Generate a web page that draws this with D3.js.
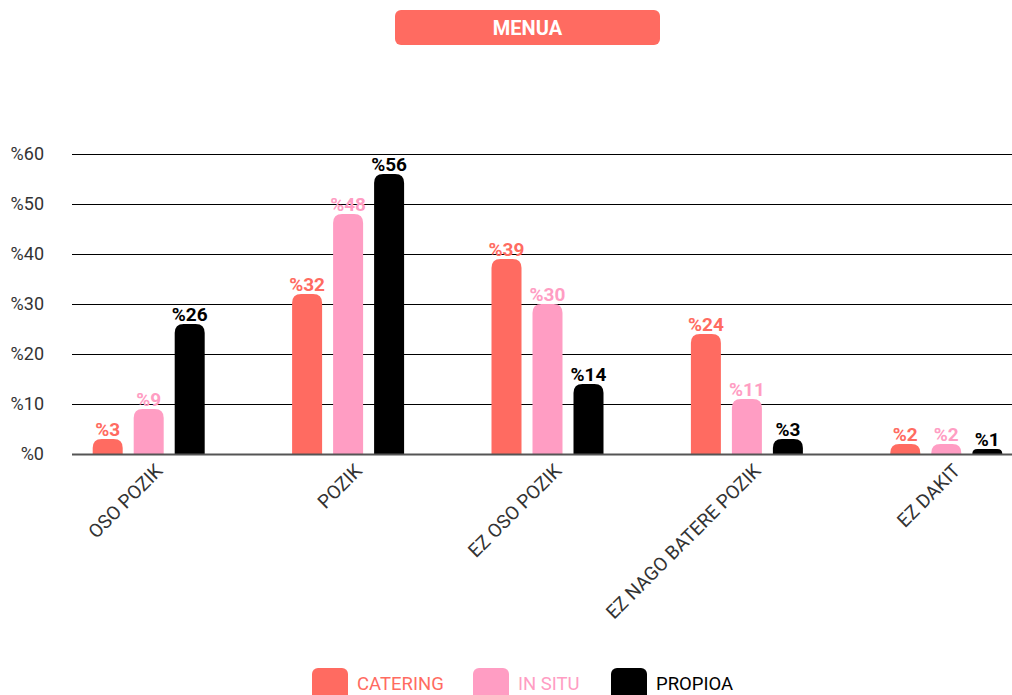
<!DOCTYPE html>
<html><head><meta charset="utf-8">
<script src="https://cdn.jsdelivr.net/npm/d3@7/dist/d3.min.js"></script>
<style>body{margin:0;background:#fff;}svg{display:block;font-family:Roboto,sans-serif;}</style>
</head><body>
<svg id="c" width="1012" height="695"></svg>
<script>
const categories = ["OSO POZIK","POZIK","EZ OSO POZIK","EZ NAGO BATERE POZIK","EZ DAKIT"];
const seriesNames = ["CATERING","IN SITU","PROPIOA"];
const catering = [3,32,39,24,2];
const inSitu = [9,48,30,11,2];
const propioa = [26,56,14,3,1];
const yTicks = [0,10,20,30,40,50,60];
const colors = ["#ff6b61","#ff9dc3","#000000"];
const title = "MENUA";

const series = [catering, inSitu, propioa];
const svg = d3.select("#c");
const left = 72, right = 1012;
const x = d3.scaleBand().domain(categories).range([49, 1046]);
const xs = d3.scaleBand().domain(seriesNames).range([0, 30*3+11*2]).paddingInner(11/41);
const y = d3.scaleLinear().domain([0,60]).range([454,154]);

// title
svg.append("rect").attr("x",395).attr("y",10).attr("width",265).attr("height",35).attr("rx",6).attr("fill",colors[0]);
svg.append("text").attr("x",527.5).attr("y",35).attr("text-anchor","middle").attr("fill","#fff")
  .attr("font-weight","bold").attr("font-size",20).text(title);

// grid
svg.append("g").selectAll("line").data(yTicks.filter(d=>d>0)).join("line")
  .attr("x1",left).attr("x2",right).attr("y1",d=>y(d)+0.5).attr("y2",d=>y(d)+0.5)
  .attr("stroke","#000").attr("stroke-width",1);
svg.append("g").selectAll("text").data(yTicks).join("text")
  .attr("x",44).attr("y",d=>y(d)+6).attr("text-anchor","end").attr("font-size",18).attr("fill","#333")
  .text(d=>"%"+d);

// bars
function barPath(x0,w,y0,yb,r){
  r=Math.min(r,(yb-y0),w/2);
  return `M${x0},${yb}V${y0+r}Q${x0},${y0} ${x0+r},${y0}H${x0+w-r}Q${x0+w},${y0} ${x0+w},${y0+r}V${yb}Z`;
}
const gOff = (x.bandwidth() - (30*3+11*2))/2;
series.forEach((vals,si)=>{
  const g = svg.append("g");
  g.selectAll("path").data(vals).join("path")
    .attr("d",(d,i)=>barPath(x(categories[i])+gOff+xs(seriesNames[si]), xs.bandwidth(), y(d), y(0), 9))
    .attr("fill",colors[si]);
  g.selectAll("text").data(vals).join("text")
    .attr("x",(d,i)=>x(categories[i])+gOff+xs(seriesNames[si])+xs.bandwidth()/2)
    .attr("y",d=>y(d)-3).attr("text-anchor","middle").attr("font-weight","bold").attr("font-size",19)
    .attr("fill",colors[si]).text(d=>"%"+d);
});

// baseline
svg.append("line").attr("x1",left).attr("x2",right).attr("y1",y(0)+0.5).attr("y2",y(0)+0.5)
  .attr("stroke","#555").attr("stroke-width",2);

// x labels
svg.append("g").selectAll("text").data(categories).join("text")
  .attr("transform",d=>`translate(${x(d)+x.bandwidth()/2+5},${462}) rotate(-45)`)
  .attr("text-anchor","end").attr("dy","0.75em").attr("font-size",19).attr("fill","#333").text(d=>d);

// legend
const legX = [312,473,611];
seriesNames.forEach((n,i)=>{
  svg.append("rect").attr("x",legX[i]).attr("y",668).attr("width",36).attr("height",36).attr("rx",6).attr("fill",colors[i]);
  svg.append("text").attr("x",legX[i]+45).attr("y",690).attr("font-size",18.5)
    .attr("fill",i===2?"#000":colors[i]).text(n);
});
</script>
</body></html>
